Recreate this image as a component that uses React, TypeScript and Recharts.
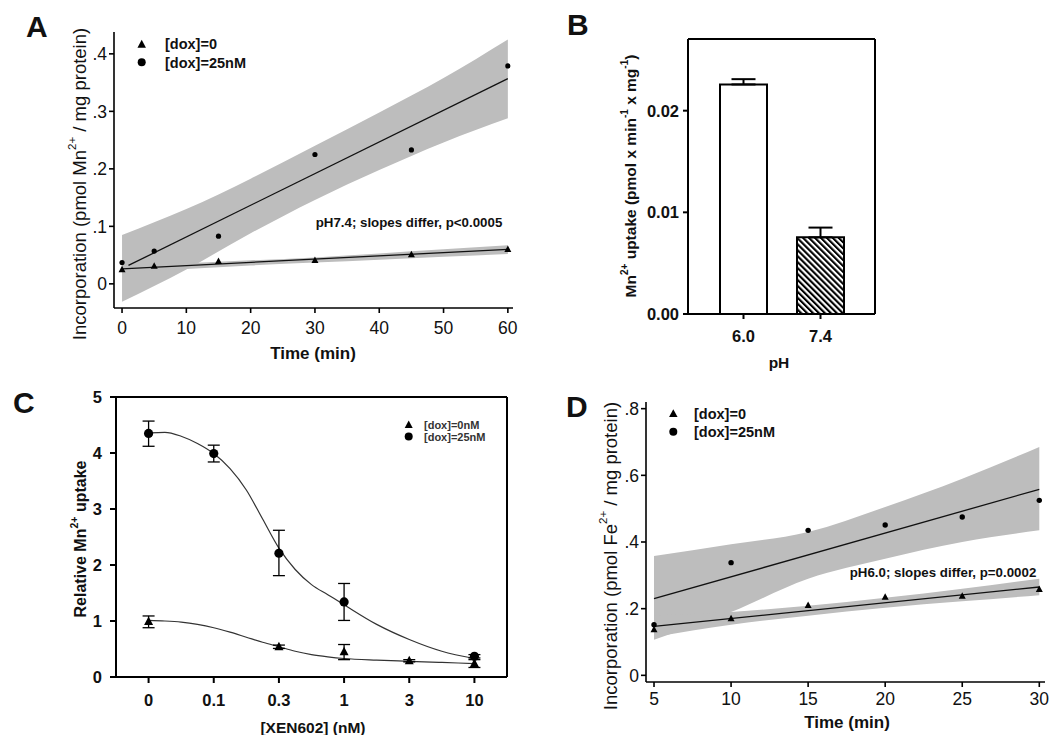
import React from "react";
import {
  ComposedChart,
  XAxis,
  YAxis,
  Area,
  Line,
  Scatter,
  Bar,
  Cell,
  ErrorBar,
  Label,
  CartesianGrid,
} from "recharts";

const FONT = "'Liberation Sans', Arial, Helvetica, sans-serif";
const INK = "#111";
const BAND = "#bdbdbd";

// ---- A: Mn2+ incorporation vs time, pH 7.4
const aTime = [0, 5, 15, 30, 45, 60];
const aDox0 = [0.025, 0.031, 0.039, 0.041, 0.051, 0.06];
const aDox25 = [0.037, 0.057, 0.083, 0.225, 0.233, 0.379];
const aFit0X = [0, 60];
const aFit0Y = [0.026, 0.06];
const aFit25X = [1, 60];
const aFit25Y = [0.032, 0.357];
const aBandX = [0, 10, 20, 30, 40, 50, 60];
const aBand0Lo = [0.021, 0.026, 0.032, 0.037, 0.042, 0.047, 0.052];
const aBand0Hi = [0.032, 0.036, 0.041, 0.046, 0.053, 0.06, 0.067];
const aBand25Lo = [-0.031, 0.025, 0.088, 0.146, 0.198, 0.246, 0.288];
const aBand25Hi = [0.085, 0.13, 0.183, 0.24, 0.298, 0.358, 0.425];
const aXTicks = [0, 10, 20, 30, 40, 50, 60];
const aYTicks = [0, 0.1, 0.2, 0.3, 0.4];

// ---- B: Mn2+ uptake by pH
const bPh = ["6.0", "7.4"];
const bUptake = [0.02258, 0.00754];
const bErrTop = [0.0231, 0.0085];
const bYTicks = [0, 0.01, 0.02];

// ---- C: dose response to XEN602
const cDoseLabels = ["0", "0.1", "0.3", "1", "3", "10"];
const cPos25 = [0, 1, 2, 3, 5];
const cMean25 = [4.35, 3.99, 2.21, 1.34, 0.37];
const cHi25 = [4.57, 4.14, 2.62, 1.67, 0.4];
const cLo25 = [4.12, 3.84, 1.81, 1.01, 0.34];
const cPos0 = [0, 2, 3, 4, 5];
const cMean0 = [0.99, 0.54, 0.45, 0.29, 0.24];
const cHi0 = [1.09, 0.57, 0.58, 0.31, 0.31];
const cLo0 = [0.88, 0.51, 0.31, 0.27, 0.17];
const cCurveX = [0, 0.25, 0.5, 0.75, 1, 1.25, 1.5, 1.75, 2, 2.25, 2.5, 2.75, 3, 3.5, 4, 4.5, 5];
const cCurve25 = [4.36, 4.37, 4.3, 4.17, 3.99, 3.72, 3.34, 2.82, 2.3, 1.92, 1.65, 1.47, 1.29, 0.94, 0.67, 0.46, 0.33];
const cCurve0 = [1.01, 1.0, 0.98, 0.94, 0.88, 0.8, 0.71, 0.62, 0.54, 0.46, 0.4, 0.36, 0.33, 0.3, 0.28, 0.26, 0.24];
const cYTicks = [0, 1, 2, 3, 4, 5];

// ---- D: Fe2+ incorporation vs time, pH 6.0
const dTime = [5, 10, 15, 20, 25, 30];
const dDox0 = [0.137, 0.17, 0.21, 0.235, 0.238, 0.258];
const dDox25 = [0.152, 0.338, 0.435, 0.451, 0.475, 0.525];
const dFitX = [5, 30];
const dFit0Y = [0.147, 0.265];
const dFit25Y = [0.23, 0.558];
const dBand0Lo = [0.115, 0.152, 0.179, 0.203, 0.222, 0.24];
const dBand0Hi = [0.18, 0.19, 0.209, 0.233, 0.26, 0.29];
const dBand25Lo = [0.107, 0.19, 0.29, 0.35, 0.4, 0.435];
const dBand25Hi = [0.358, 0.393, 0.43, 0.505, 0.59, 0.685];
const dXTicks = [5, 10, 15, 20, 25, 30];
const dYTicks = [0, 0.2, 0.4, 0.6, 0.8];

const pts = (xs: number[], ys: number[]) => xs.map((x, i) => ({ x, y: ys[i] }));
const dotFmt = (v: number) => (v === 0 ? "0" : String(v).replace(/^0/, ""));

const dot = (r: number) => (p: any) => <circle cx={p.cx} cy={p.cy} r={r} fill="#000" />;
const tri = (s: number) => (p: any) => (
  <polygon
    points={`${p.cx},${p.cy - s * 0.55} ${p.cx - s / 2},${p.cy + s * 0.38} ${p.cx + s / 2},${p.cy + s * 0.38}`}
    fill="#000"
  />
);

const triAt = (x: number, y: number, s: number) => tri(s)({ cx: x, cy: y });

const axisLine = { stroke: "#000", strokeWidth: 1.6 };

// box around the plot area (panels B and C), edges taken from the chart offset
const frameRows = ({ offset }: any) => [offset.top, offset.top + offset.height];
const frameCols = ({ offset }: any) => [offset.left, offset.left + offset.width];

function VTitle({ x, y, size, bold, children }: any) {
  return (
    <text
      x={x}
      y={y}
      transform={`rotate(-90 ${x} ${y})`}
      textAnchor="middle"
      dominantBaseline="central"
      fontFamily={FONT}
      fontSize={size}
      fontWeight={bold ? "bold" : "normal"}
      fill={INK}
    >
      {children}
    </text>
  );
}

function PanelA() {
  const bandRows = aBandX.map((x, i) => ({
    x,
    b0: [aBand0Lo[i], aBand0Hi[i]],
    b25: [aBand25Lo[i], aBand25Hi[i]],
  }));
  const tick = { fontSize: 17.5, fill: INK, fontFamily: FONT };
  const texts = () => (
    <g>
      <text x={26} y={37} fontFamily={FONT} fontSize={30} fontWeight="bold" fill={INK}>A</text>
      <VTitle x={79} y={184} size={18.5}>
        Incorporation (pmol Mn
        <tspan fontSize={11.5} dy={-7.5}>2+</tspan>
        <tspan dy={7.5}>{" / mg protein)"}</tspan>
      </VTitle>
      <text x={313} y={353} textAnchor="middle" dominantBaseline="central" fontFamily={FONT} fontSize={17} fontWeight="bold" fill={INK}>
        Time (min)
      </text>
      <g fontFamily={FONT} fontSize={14.5} fontWeight="bold" fill={INK}>
        {triAt(141.7, 44.5, 8.5)}
        <text x={165} y={49}>[dox]=0</text>
        <circle cx={141.7} cy={62.3} r={4} fill="#000" />
        <text x={165} y={67.5}>[dox]=25nM</text>
        <text x={409} y={222.3} textAnchor="middle" dominantBaseline="central" fontSize={13.3}>
          pH7.4; slopes differ, p&lt;0.0005
        </text>
      </g>
    </g>
  );
  return (
    <ComposedChart width={530} height={370} data={bandRows} margin={{ top: 32, right: 17, bottom: 12, left: 54 }}>
      <XAxis
        dataKey="x"
        type="number"
        domain={[-1.25, 60.8]}
        ticks={aXTicks}
        height={50}
        tick={tick}
        tickSize={5}
        tickMargin={9}
        axisLine={axisLine}
        tickLine={axisLine}
      />
      <YAxis
        type="number"
        domain={[-0.042, 0.438]}
        ticks={aYTicks}
        tickFormatter={dotFmt}
        width={60}
        tick={tick}
        tickSize={5}
        tickMargin={2}
        axisLine={axisLine}
        tickLine={axisLine}
      >
        <Label content={texts} />
      </YAxis>
      <Area dataKey="b25" type="monotone" fill={BAND} fillOpacity={1} stroke="none" isAnimationActive={false} />
      <Area dataKey="b0" type="monotone" fill={BAND} fillOpacity={1} stroke="none" isAnimationActive={false} />
      <Line data={pts(aFit25X, aFit25Y)} dataKey="y" stroke="#111" strokeWidth={1.3} dot={false} isAnimationActive={false} />
      <Line data={pts(aFit0X, aFit0Y)} dataKey="y" stroke="#111" strokeWidth={1.3} dot={false} isAnimationActive={false} />
      <Scatter data={pts(aTime, aDox25)} dataKey="y" shape={dot(2.6)} isAnimationActive={false} />
      <Scatter data={pts(aTime, aDox0)} dataKey="y" shape={tri(7)} isAnimationActive={false} />
    </ComposedChart>
  );
}

function PanelB() {
  const rows = bPh.map((ph, i) => ({ ph, v: bUptake[i], err: [0, bErrTop[i] - bUptake[i]] }));
  const tick = { fontSize: 16.5, fill: INK, fontFamily: FONT, fontWeight: "bold" };
  const frame = { stroke: "#000", strokeWidth: 2 };
  const texts = () => (
    <g>
      <text x={27} y={35} fontFamily={FONT} fontSize={30} fontWeight="bold" fill={INK}>B</text>
      <VTitle x={90} y={176} size={15.5} bold>
        Mn
        <tspan fontSize={10} dy={-6.5}>2+</tspan>
        <tspan dy={6.5}>{" uptake (pmol x min"}</tspan>
        <tspan fontSize={10} dy={-6.5}>-1</tspan>
        <tspan dy={6.5}>{" x mg"}</tspan>
        <tspan fontSize={10} dy={-6.5}>-1</tspan>
        <tspan dy={6.5}>)</tspan>
      </VTitle>
      <text x={239} y={362} textAnchor="middle" dominantBaseline="central" fontFamily={FONT} fontSize={15.5} fontWeight="bold" fill={INK}>
        pH
      </text>
    </g>
  );
  return (
    <ComposedChart width={380} height={375} data={rows} margin={{ top: 39, right: 45, bottom: 21, left: 88 }}>
      <defs>
        <pattern id="hatch" patternUnits="userSpaceOnUse" width={4.2} height={4.2} patternTransform="rotate(-45)">
          <rect x={0} y={0} width={4.2} height={4.2} fill="#fff" />
          <rect x={0} y={0} width={2.1} height={4.2} fill="#000" />
        </pattern>
      </defs>
      <CartesianGrid
        stroke="#000"
        strokeWidth={2}
        fill="none"
        horizontalCoordinatesGenerator={frameRows}
        verticalCoordinatesGenerator={frameCols}
      />
      <XAxis
        dataKey="ph"
        padding={{ left: 17, right: 16 }}
        height={40}
        tick={tick}
        tickSize={5}
        tickMargin={11}
        axisLine={frame}
        tickLine={frame}
      />
      <YAxis
        type="number"
        domain={[0, 0.02705]}
        ticks={bYTicks}
        tickFormatter={(v: number) => v.toFixed(2)}
        width={60}
        tick={tick}
        tickSize={5}
        tickMargin={4}
        axisLine={frame}
        tickLine={frame}
      >
        <Label content={texts} />
      </YAxis>
      <Bar dataKey="v" barSize={47} stroke="#000" strokeWidth={2} isAnimationActive={false}>
        {rows.map((r, i) => (
          <Cell key={r.ph} fill={i === 0 ? "#fff" : "url(#hatch)"} />
        ))}
        <ErrorBar dataKey="err" width={12} stroke="#000" strokeWidth={2} isAnimationActive={false} />
      </Bar>
    </ComposedChart>
  );
}

function PanelC() {
  const d25 = cPos25.map((x, i) => ({ x, y: cMean25[i], err: [cMean25[i] - cLo25[i], cHi25[i] - cMean25[i]] }));
  const d0 = cPos0.map((x, i) => ({ x, y: cMean0[i], err: [cMean0[i] - cLo0[i], cHi0[i] - cMean0[i]] }));
  const tick = { fontSize: 16.5, fill: INK, fontFamily: FONT, fontWeight: "bold" };
  const frame = { stroke: "#000", strokeWidth: 2 };
  const texts = () => (
    <g>
      <text x={13} y={33} fontFamily={FONT} fontSize={30} fontWeight="bold" fill={INK}>C</text>
      <VTitle x={80} y={159} size={16} bold>
        Relative Mn
        <tspan fontSize={10.5} dy={-6.5}>2+</tspan>
        <tspan dy={6.5}>{" uptake"}</tspan>
      </VTitle>
      <text x={313} y={347} textAnchor="middle" dominantBaseline="central" fontFamily={FONT} fontSize={15.5} fontWeight="bold" fill={INK}>
        [XEN602] (nM)
      </text>
      <g fontFamily={FONT} fontSize={11} fontWeight="bold" fill="#333">
        {triAt(408.7, 45, 8)}
        <text x={424} y={49}>[dox]=0nM</text>
        <circle cx={408.7} cy={56.5} r={4} fill="#000" />
        <text x={424} y={60.5}>[dox]=25nM</text>
      </g>
    </g>
  );
  return (
    <ComposedChart width={530} height={355} margin={{ top: 17, right: 23, bottom: 13, left: 56 }}>
      <CartesianGrid
        stroke="#000"
        strokeWidth={2}
        fill="none"
        horizontalCoordinatesGenerator={frameRows}
        verticalCoordinatesGenerator={frameCols}
      />
      <XAxis
        dataKey="x"
        type="number"
        domain={[-0.5, 5.5]}
        ticks={[0, 1, 2, 3, 4, 5]}
        tickFormatter={(v: number) => cDoseLabels[v]}
        height={45}
        tick={tick}
        tickSize={6}
        tickMargin={11}
        axisLine={frame}
        tickLine={frame}
      />
      <YAxis
        type="number"
        domain={[0, 5]}
        ticks={cYTicks}
        width={60}
        tick={tick}
        tickSize={6}
        tickMargin={8}
        axisLine={frame}
        tickLine={frame}
      >
        <Label content={texts} />
      </YAxis>
      <Line data={pts(cCurveX, cCurve25)} dataKey="y" type="monotone" stroke="#333" strokeWidth={1.2} dot={false} isAnimationActive={false} />
      <Line data={pts(cCurveX, cCurve0)} dataKey="y" type="monotone" stroke="#333" strokeWidth={1.2} dot={false} isAnimationActive={false} />
      <Scatter data={d25} dataKey="y" shape={dot(4.6)} isAnimationActive={false}>
        <ErrorBar dataKey="err" direction="y" width={6} stroke="#000" strokeWidth={1.3} isAnimationActive={false} />
      </Scatter>
      <Scatter data={d0} dataKey="y" shape={tri(9)} isAnimationActive={false}>
        <ErrorBar dataKey="err" direction="y" width={6} stroke="#000" strokeWidth={1.3} isAnimationActive={false} />
      </Scatter>
    </ComposedChart>
  );
}

function PanelD() {
  const bandRows = dTime.map((x, i) => ({
    x,
    b0: [dBand0Lo[i], dBand0Hi[i]],
    b25: [dBand25Lo[i], dBand25Hi[i]],
  }));
  const tick = { fontSize: 17.5, fill: INK, fontFamily: FONT };
  const texts = () => (
    <g>
      <text x={46} y={37} fontFamily={FONT} fontSize={30} fontWeight="bold" fill={INK}>D</text>
      <VTitle x={90} y={176} size={18.5}>
        Incorporation (pmol Fe
        <tspan fontSize={11.5} dy={-7.5}>2+</tspan>
        <tspan dy={7.5}>{" / mg protein)"}</tspan>
      </VTitle>
      <text x={327} y={342} textAnchor="middle" dominantBaseline="central" fontFamily={FONT} fontSize={17} fontWeight="bold" fill={INK}>
        Time (min)
      </text>
      <g fontFamily={FONT} fontSize={14.5} fontWeight="bold" fill={INK}>
        {triAt(153.3, 33.8, 8.5)}
        <text x={174} y={38.5}>[dox]=0</text>
        <circle cx={153.3} cy={51.7} r={4} fill="#000" />
        <text x={174} y={56.5}>[dox]=25nM</text>
        <text x={423} y={192.7} textAnchor="middle" dominantBaseline="central" fontSize={13.3}>
          pH6.0; slopes differ, p=0.0002
        </text>
      </g>
    </g>
  );
  return (
    <ComposedChart width={542} height={355} data={bandRows} margin={{ top: 22, right: 17, bottom: 8, left: 66 }}>
      <XAxis
        dataKey="x"
        type="number"
        domain={[4.48, 30.37]}
        ticks={dXTicks}
        height={45}
        tick={tick}
        tickSize={5}
        tickMargin={6}
        axisLine={axisLine}
        tickLine={axisLine}
      />
      <YAxis
        type="number"
        domain={[-0.02, 0.82]}
        ticks={dYTicks}
        tickFormatter={dotFmt}
        width={60}
        tick={tick}
        tickSize={5}
        tickMargin={2}
        axisLine={axisLine}
        tickLine={axisLine}
      >
        <Label content={texts} />
      </YAxis>
      <Area dataKey="b25" type="monotone" fill={BAND} fillOpacity={1} stroke="none" isAnimationActive={false} />
      <Area dataKey="b0" type="monotone" fill={BAND} fillOpacity={1} stroke="none" isAnimationActive={false} />
      <Line data={pts(dFitX, dFit25Y)} dataKey="y" stroke="#111" strokeWidth={1.3} dot={false} isAnimationActive={false} />
      <Line data={pts(dFitX, dFit0Y)} dataKey="y" stroke="#111" strokeWidth={1.3} dot={false} isAnimationActive={false} />
      <Scatter data={pts(dTime, dDox25)} dataKey="y" shape={dot(2.7)} isAnimationActive={false} />
      <Scatter data={pts(dTime, dDox0)} dataKey="y" shape={tri(7)} isAnimationActive={false} />
    </ComposedChart>
  );
}

export default function App() {
  return (
    <div style={{ position: "relative", width: 1062, height: 735, background: "#fff", fontFamily: FONT }}>
      <style>{`body{margin:0;background:#fff}`}</style>
      <div style={{ position: "absolute", left: 0, top: 0 }}>
        <PanelA />
      </div>
      <div style={{ position: "absolute", left: 540, top: 0 }}>
        <PanelB />
      </div>
      <div style={{ position: "absolute", left: 0, top: 380 }}>
        <PanelC />
      </div>
      <div style={{ position: "absolute", left: 520, top: 380 }}>
        <PanelD />
      </div>
    </div>
  );
}
